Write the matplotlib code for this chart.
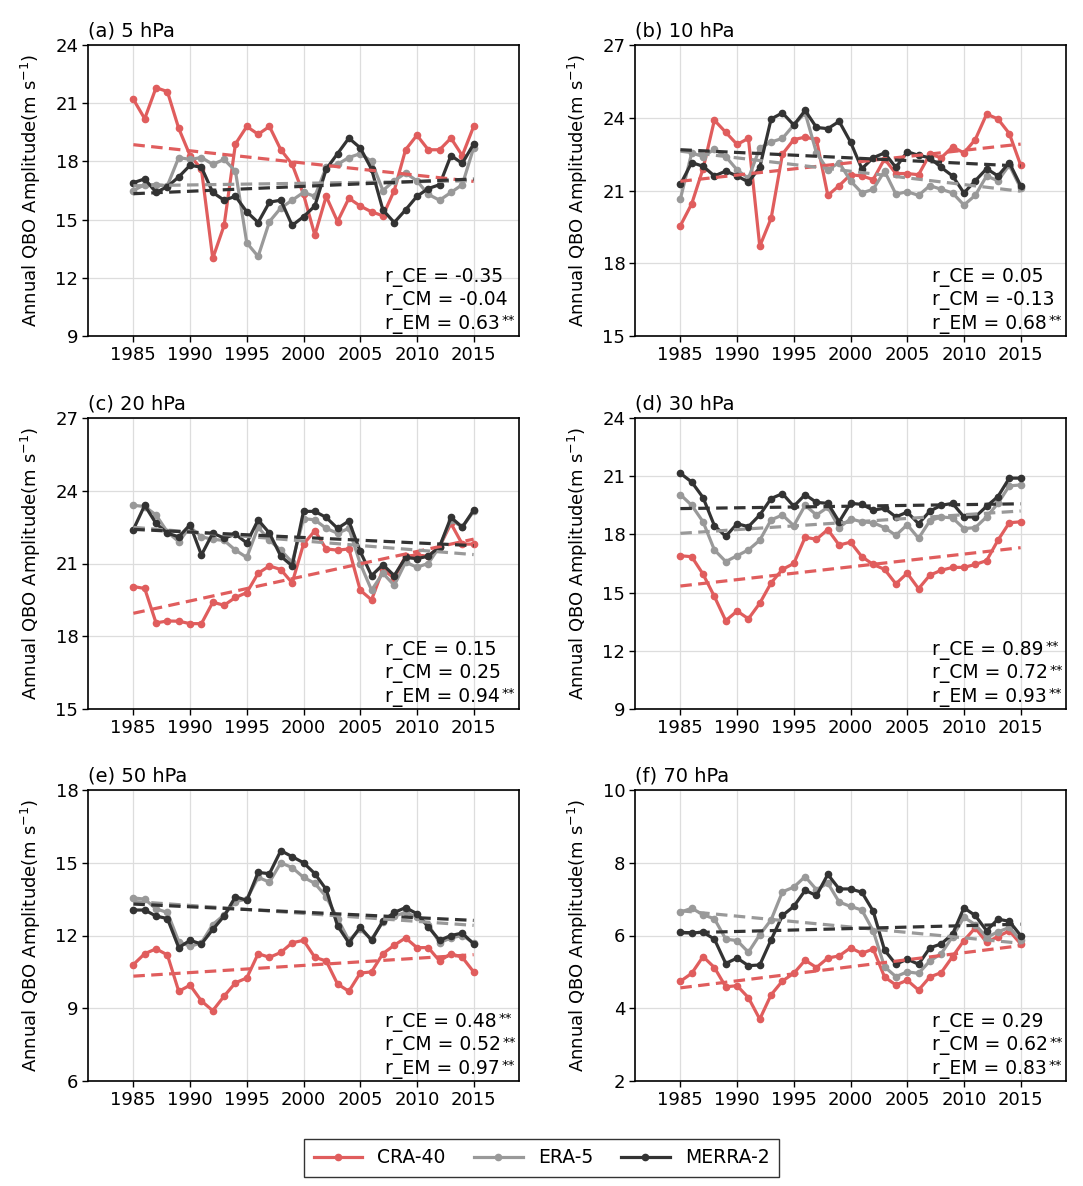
import numpy as np
import matplotlib.pyplot as plt

plt.rcParams['font.family'] = ['DejaVu Sans']
plt.rcParams['font.size'] = 13

years = list(range(1985, 2016))

# (a) 5 hPa
cra_5 = [21.2, 20.2, 21.8, 21.6, 19.7, 18.3, 17.6, 13.0, 14.7, 18.9, 19.8, 19.4, 19.8, 18.6, 17.85, 16.3,
         14.2, 16.2, 14.9, 16.1, 15.7, 15.4, 15.2, 16.5, 18.6, 19.35, 18.6, 18.6, 19.2, 18.3, 19.8]
era_5 = [16.5, 16.8, 16.8, 16.75, 18.2, 18.1, 18.2, 17.85, 18.1, 17.5, 13.8, 13.1, 14.9, 15.6, 16.0, 16.4,
         16.2, 17.7, 17.85, 18.2, 18.4, 18.0, 16.5, 17.0, 17.4, 17.0, 16.3, 16.0, 16.4, 16.8, 18.7]
merra_5 = [16.9, 17.1, 16.4, 16.7, 17.2, 17.8, 17.7, 16.4, 16.0, 16.2, 15.4, 14.85, 15.9, 16.0, 14.7, 15.15,
           15.7, 17.6, 18.4, 19.2, 18.7, 17.6, 15.5, 14.85, 15.5, 16.2, 16.6, 16.8, 18.3, 17.9, 18.9]

# (b) 10 hPa
cra_10 = [19.55, 20.45, 21.9, 23.9, 23.4, 22.9, 23.15, 18.7, 19.85, 22.5, 23.1, 23.2, 23.1, 20.8, 21.2, 21.65,
          21.6, 21.45, 22.3, 21.7, 21.7, 21.65, 22.5, 22.35, 22.8, 22.55, 23.1, 24.15, 23.95, 23.35, 22.05]
era_10 = [20.65, 22.55, 22.4, 22.7, 22.4, 21.85, 21.5, 22.75, 23.0, 23.15, 23.7, 24.2, 22.55, 21.85, 22.15, 21.4,
          20.9, 21.05, 21.8, 20.85, 20.95, 20.8, 21.2, 21.05, 20.9, 20.4, 20.8, 21.6, 21.4, 22.05, 21.1]
merra_10 = [21.25, 22.15, 22.0, 21.6, 21.8, 21.6, 21.35, 21.95, 23.95, 24.2, 23.7, 24.3, 23.6, 23.55, 23.85, 23.0,
            21.9, 22.35, 22.55, 21.95, 22.6, 22.45, 22.35, 21.95, 21.6, 20.9, 21.4, 21.9, 21.6, 22.15, 21.2]

# (c) 20 hPa
cra_20 = [20.05, 19.97, 18.55, 18.63, 18.62, 18.52, 18.52, 19.4, 19.28, 19.6, 19.8, 20.6, 20.9, 20.75, 20.2, 21.8,
          22.35, 21.6, 21.55, 21.6, 19.9, 19.5, 20.75, 20.4, 21.3, 21.35, 21.3, 21.7, 22.65, 21.8, 21.8]
era_20 = [23.4, 23.35, 23.0, 22.3, 21.9, 22.5, 22.1, 22.0, 21.95, 21.55, 21.25, 22.5, 21.95, 21.55, 21.05, 22.85,
          22.8, 22.45, 22.25, 22.45, 21.0, 19.9, 20.6, 20.1, 21.05, 20.85, 21.0, 21.7, 22.8, 22.5, 23.15]
merra_20 = [22.4, 23.4, 22.65, 22.25, 22.1, 22.6, 21.35, 22.25, 22.05, 22.2, 21.85, 22.8, 22.25, 21.3, 20.9, 23.15,
            23.15, 22.9, 22.45, 22.75, 21.5, 20.5, 20.95, 20.5, 21.25, 21.2, 21.3, 21.7, 22.9, 22.5, 23.2]

# (d) 30 hPa
cra_30 = [16.9, 16.85, 15.95, 14.8, 13.55, 14.05, 13.65, 14.45, 15.5, 16.2, 16.5, 17.85, 17.75, 18.25, 17.45, 17.6,
          16.85, 16.45, 16.2, 15.45, 16.0, 15.2, 15.9, 16.15, 16.3, 16.3, 16.45, 16.65, 17.7, 18.6, 18.65]
era_30 = [20.05, 19.5, 18.65, 17.2, 16.6, 16.9, 17.2, 17.7, 18.75, 19.0, 18.45, 19.5, 19.0, 19.4, 18.35, 18.8,
          18.65, 18.6, 18.35, 17.95, 18.5, 17.8, 18.7, 18.9, 18.85, 18.3, 18.35, 18.9, 19.6, 20.5, 20.55]
merra_30 = [21.15, 20.7, 19.9, 18.45, 17.9, 18.55, 18.4, 19.0, 19.85, 20.1, 19.45, 20.05, 19.65, 19.6, 18.65, 19.6,
            19.55, 19.25, 19.35, 18.9, 19.15, 18.55, 19.2, 19.5, 19.6, 18.9, 18.9, 19.45, 19.95, 20.9, 20.9]

# (e) 50 hPa
cra_50 = [10.8, 11.25, 11.45, 11.2, 9.7, 9.95, 9.3, 8.9, 9.5, 10.05, 10.25, 11.25, 11.1, 11.3, 11.7, 11.8,
          11.1, 10.95, 10.0, 9.7, 10.45, 10.5, 11.25, 11.6, 11.9, 11.5, 11.5, 10.95, 11.25, 11.1, 10.5]
era_50 = [13.55, 13.5, 13.1, 12.95, 11.75, 11.55, 11.7, 12.45, 12.85, 13.4, 13.5, 14.4, 14.2, 15.0, 14.8, 14.4,
          14.15, 13.6, 12.7, 11.8, 12.25, 11.85, 12.55, 12.8, 12.95, 12.75, 12.45, 11.7, 11.9, 12.0, 11.7]
merra_50 = [13.05, 13.05, 12.8, 12.7, 11.5, 11.8, 11.65, 12.25, 12.8, 13.6, 13.45, 14.6, 14.55, 15.5, 15.25, 15.0,
            14.55, 13.9, 12.4, 11.7, 12.35, 11.8, 12.6, 12.95, 13.15, 12.9, 12.35, 11.8, 12.0, 12.1, 11.65]

# (f) 70 hPa
cra_70 = [4.74, 4.96, 5.42, 5.12, 4.59, 4.62, 4.29, 3.7, 4.37, 4.75, 4.96, 5.32, 5.12, 5.38, 5.44, 5.66,
          5.51, 5.63, 4.86, 4.64, 4.77, 4.5, 4.86, 4.98, 5.42, 5.86, 6.21, 5.81, 5.97, 6.13, 5.77]
era_70 = [6.64, 6.75, 6.57, 6.46, 5.9, 5.86, 5.54, 6.02, 6.43, 7.2, 7.33, 7.62, 7.26, 7.44, 6.92, 6.8,
          6.7, 6.13, 5.14, 4.87, 5.0, 4.96, 5.3, 5.5, 5.97, 6.5, 6.3, 5.95, 6.1, 6.22, 5.87]
merra_70 = [6.09, 6.07, 6.09, 5.9, 5.23, 5.38, 5.17, 5.19, 5.88, 6.55, 6.8, 7.24, 7.1, 7.68, 7.28, 7.28,
            7.19, 6.67, 5.6, 5.21, 5.35, 5.21, 5.66, 5.77, 6.04, 6.76, 6.55, 6.13, 6.45, 6.39, 6.0]

titles = ['(a) 5 hPa', '(b) 10 hPa', '(c) 20 hPa', '(d) 30 hPa', '(e) 50 hPa', '(f) 70 hPa']
# correlation values; True = significant (**)
corr_vals = [['-0.35', '-0.04', '0.63'], ['0.05', '-0.13', '0.68'], ['0.15', '0.25', '0.94'],
             ['0.89', '0.72', '0.93'], ['0.48', '0.52', '0.97'], ['0.29', '0.62', '0.83']]
corr_sig = [[False, False, True], [False, False, True], [False, False, True],
            [True, True, True], [True, True, True], [False, True, True]]
yticks = [range(9, 25, 3), range(15, 28, 3), range(15, 28, 3),
          range(9, 25, 3), range(6, 19, 3), range(2, 11, 2)]

series = [(cra_5, era_5, merra_5), (cra_10, era_10, merra_10), (cra_20, era_20, merra_20),
          (cra_30, era_30, merra_30), (cra_50, era_50, merra_50), (cra_70, era_70, merra_70)]

names = ['CRA-40', 'ERA-5', 'MERRA-2']
colors = ['#E05D5D', '#999999', '#333333']

W, H = 1083, 1186
fig = plt.figure(figsize=(W / 100, H / 100), dpi=100)

lefts = [88, 635]
tops = [45, 418, 790]
aw, ah = 431, 291

x = np.array(years)
for i in range(6):
    r, c = i // 2, i % 2
    ax = fig.add_axes([lefts[c] / W, 1 - (tops[r] + ah) / H, aw / W, ah / H])
    lines = []
    for data, col, nm in zip(series[i], colors, names):
        ln, = ax.plot(years, data, '-o', color=col, lw=2.3, ms=4.5, label=nm, zorder=3)
        lines.append(ln)
    # linear trends
    for data, col in zip(series[i], colors):
        k, b = np.polyfit(x, np.array(data), 1)
        ax.plot(x, k * x + b, color=col, lw=2.3, linestyle=(0, (3.6, 2.0)), zorder=4)

    ax.set_xlim(1981, 2019)
    ax.set_xticks(range(1985, 2016, 5))
    yt = list(yticks[i])
    ax.set_yticks(yt)
    ax.set_ylim(yt[0], yt[-1])
    ax.grid(True, color='#DDDDDD', lw=0.9)
    ax.set_axisbelow(True)
    ax.tick_params(direction='out', length=4, width=1, labelsize=13, pad=3)
    for sp in ax.spines.values():
        sp.set_linewidth(1.2)
    ax.set_title(titles[i], loc='left', fontsize=14, pad=6)
    ax.set_ylabel('Annual QBO Amplitude(m s$^{-1}$)', fontsize=13)
    ax.yaxis.set_label_coords(-0.104, 0.5)
    labels = ['r_CE = ', 'r_CM = ', 'r_EM = ']
    for j, (lab, val, sig) in enumerate(zip(labels, corr_vals[i], corr_sig[i])):
        t = ax.text(0.69, 0.185 - j * 0.08, lab + val, transform=ax.transAxes,
                    ha='left', va='baseline', fontsize=13.5)
        if sig:
            ax.annotate('**', xy=(1.0, 1.0), xycoords=t, xytext=(1, 0.5),
                        textcoords='offset points', ha='left', va='top', fontsize=9.5)

fig.legend(lines, names, loc='lower center', bbox_to_anchor=(0.5, 0.0), ncol=3,
           fancybox=False, edgecolor='#333333', fontsize=13.5, handlelength=2.6,
           columnspacing=1.5, borderpad=0.5, framealpha=1)
fig.savefig('out.png', dpi=100)
